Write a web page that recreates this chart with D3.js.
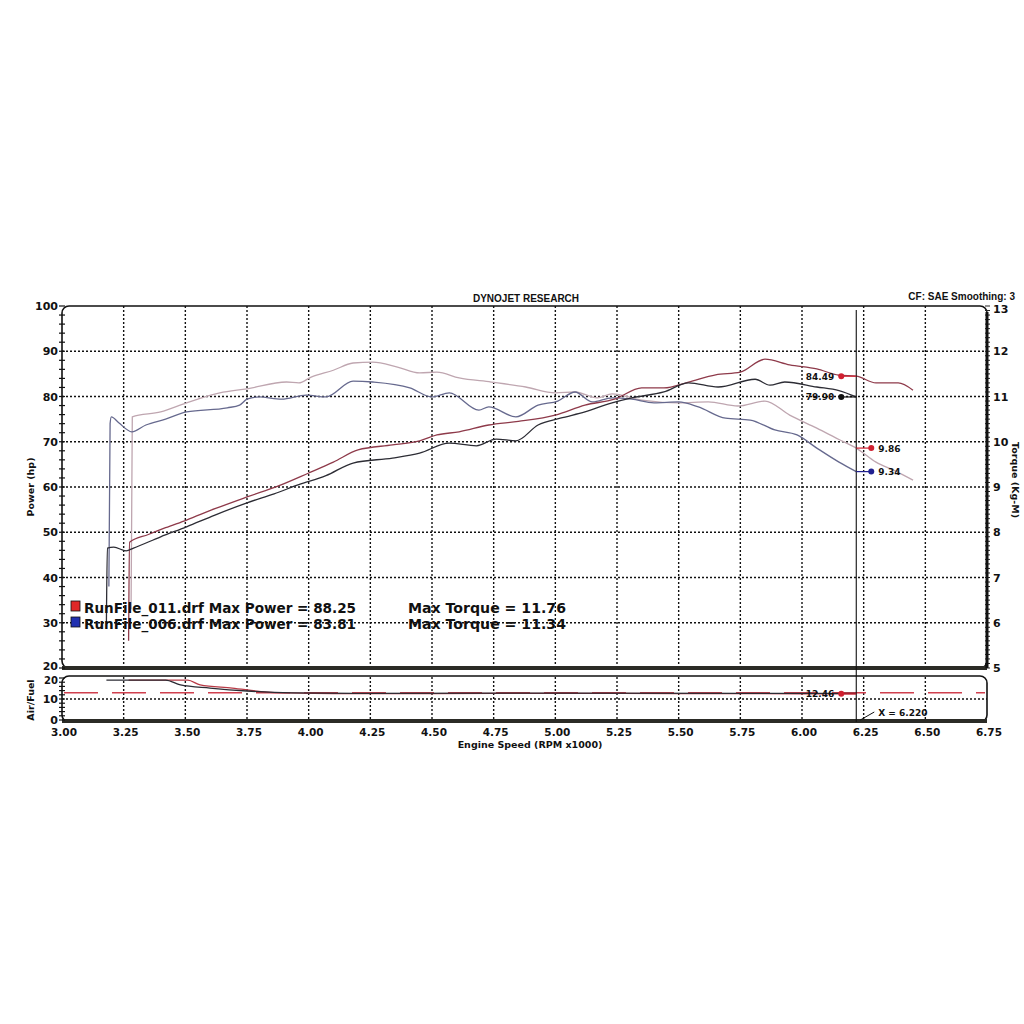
<!DOCTYPE html>
<html>
<head>
<meta charset="utf-8">
<script src="https://cdn.jsdelivr.net/npm/d3@7"></script>
<style>
  body { margin: 0; background: #fff; }
  text { font-family: "DejaVu Sans", Verdana, sans-serif; font-weight: bold; fill: #111; }
</style>
</head>
<body>
<svg width="1024" height="1024"></svg>
<script>
// rpm (x1000), power in hp
var redPower = [[3.270,26],[3.274,47.8],[3.35,49.5],[3.42,51],[3.505,52.7],[3.62,55.2],[3.75,57.8],[3.88,60.3],[4.0,63.1],[4.10,65.5],[4.20,68.2],[4.34,69.3],[4.45,70.2],[4.52,71.5],[4.61,72.2],[4.73,73.7],[4.85,74.5],[5.0,75.9],[5.12,78.1],[5.24,79.4],[5.35,81.9],[5.44,81.9],[5.54,83.2],[5.65,84.8],[5.75,85.4],[5.85,88.25],[5.95,87.0],[6.06,86.1],[6.15,84.7],[6.22,84.49],[6.30,83.0],[6.39,83.0],[6.45,81.4]];
var bluePower = [[3.180,30],[3.184,46.5],[3.21,46.7],[3.26,45.9],[3.29,46.5],[3.40,49],[3.505,51.2],[3.62,53.8],[3.75,56.5],[3.86,58.5],[3.96,60.5],[4.07,62.5],[4.18,65.3],[4.34,66.4],[4.45,67.5],[4.57,69.7],[4.68,69.1],[4.76,70.6],[4.84,70.2],[4.93,73.7],[5.02,75.2],[5.12,76.6],[5.23,78.6],[5.31,79.7],[5.44,81.0],[5.54,83.0],[5.66,82.1],[5.81,83.81],[5.87,82.5],[5.93,83.2],[6.06,82.1],[6.15,81.3],[6.22,79.9]];
// torque in Kg-M
var redTorque = [[3.280,6.3],[3.285,10.55],[3.40,10.66],[3.505,10.86],[3.64,11.08],[3.75,11.17],[3.91,11.32],[3.96,11.30],[4.01,11.43],[4.10,11.58],[4.18,11.74],[4.26,11.76],[4.36,11.65],[4.45,11.52],[4.52,11.54],[4.61,11.41],[4.74,11.32],[4.88,11.21],[5.0,11.08],[5.08,11.10],[5.17,10.97],[5.23,11.06],[5.35,10.92],[5.50,10.86],[5.62,10.88],[5.74,10.79],[5.85,10.90],[5.95,10.59],[6.06,10.30],[6.15,10.05],[6.22,9.86],[6.30,9.55],[6.38,9.35],[6.45,9.15]];
var blueTorque = [[3.190,6.8],[3.195,10.4],[3.20,10.55],[3.23,10.42],[3.283,10.22],[3.34,10.37],[3.42,10.5],[3.505,10.66],[3.67,10.75],[3.72,10.81],[3.75,10.94],[3.80,10.99],[3.89,10.94],[3.99,11.03],[4.07,10.99],[4.18,11.34],[4.26,11.32],[4.41,11.19],[4.50,10.99],[4.57,11.08],[4.69,10.70],[4.73,10.77],[4.84,10.55],[4.93,10.81],[5.01,10.90],[5.08,11.10],[5.15,10.88],[5.23,10.97],[5.31,10.94],[5.40,10.86],[5.50,10.88],[5.58,10.77],[5.69,10.52],[5.79,10.48],[5.89,10.26],[5.98,10.15],[6.06,9.86],[6.15,9.55],[6.22,9.34]];
// air/fuel ratio
var redAfr = [[3.27,19],[3.51,19],[3.56,16.7],[3.69,15.2],[3.83,13.3],[3.93,12.9],[4.1,12.6],[4.5,12.6],[5.0,12.7],[5.5,12.6],[6.0,12.5],[6.22,12.46]];
var blueAfr = [[3.18,19],[3.42,19],[3.48,16.7],[3.60,15.2],[3.75,13.8],[3.93,12.9],[4.2,12.7],[5.0,12.8],[6.0,12.7],[6.22,12.7]];
var targetAfr = 13;

var xTicks = [3.00,3.25,3.50,3.75,4.00,4.25,4.50,4.75,5.00,5.25,5.50,5.75,6.00,6.25,6.50,6.75];
var powerTicks = [20,30,40,50,60,70,80,90,100];
var torqueTicks = [5,6,7,8,9,10,11,12,13];
var afrTicks = [0,10,20];
var cursorRpm = 6.22;

var runs = [
    {name: "RunFile_011.drf", maxPower: "88.25", maxTorque: "11.76", box: "#e02828"},
    {name: "RunFile_006.drf", maxPower: "83.81", maxTorque: "11.34", box: "#2030b0"}
];

var svg = d3.select("svg");

var x = d3.scaleLinear().domain([3, 6.75]).range([62, 987]);
var yP = d3.scaleLinear().domain([20, 100]).range([668, 306]);
var yT = d3.scaleLinear().domain([5, 13]).range([668, 306]);
var yA = d3.scaleLinear().domain([0, 20]).range([720, 678]);

// frames
svg.append("rect")
    .attr("x", x(3)).attr("y", yP(100))
    .attr("width", x(6.75) - x(3)).attr("height", yP(20) - yP(100))
    .attr("rx", 7)
    .attr("fill", "none").attr("stroke", "#111").attr("stroke-width", 1.6);
svg.append("rect")
    .attr("x", x(3)).attr("y", 676)
    .attr("width", x(6.75) - x(3)).attr("height", 46)
    .attr("rx", 7)
    .attr("fill", "none").attr("stroke", "#111").attr("stroke-width", 1.6);

// grid
var grid = svg.append("g")
    .attr("stroke", "#111").attr("stroke-width", 1.4).attr("stroke-dasharray", "2,2");
grid.selectAll(".vg").data(xTicks.slice(1, -1)).enter().append("line")
    .attr("x1", d => x(d)).attr("x2", d => x(d))
    .attr("y1", yP(100)).attr("y2", yP(20));
grid.selectAll(".va").data(xTicks.slice(1, -1)).enter().append("line")
    .attr("x1", d => x(d)).attr("x2", d => x(d))
    .attr("y1", 677).attr("y2", 721);
grid.selectAll(".hg").data(powerTicks.slice(1, -1)).enter().append("line")
    .attr("x1", x(3)).attr("x2", x(6.75))
    .attr("y1", d => yP(d)).attr("y2", d => yP(d));
grid.append("line")
    .attr("x1", x(3)).attr("x2", x(6.75))
    .attr("y1", yA(10)).attr("y2", yA(10));

// target a/f dashed line
svg.append("line")
    .attr("x1", x(3) + 2).attr("x2", x(6.75) - 2)
    .attr("y1", yA(targetAfr)).attr("y2", yA(targetAfr))
    .attr("stroke", "#d0404e").attr("stroke-width", 1.4)
    .attr("stroke-dasharray", "34,14");

// thick bottom bands
svg.append("line").attr("x1", x(3)).attr("x2", x(6.75))
    .attr("y1", yP(20)).attr("y2", yP(20))
    .attr("stroke", "#2b2b26").attr("stroke-width", 4);
svg.append("line").attr("x1", x(3)).attr("x2", x(6.75))
    .attr("y1", 721).attr("y2", 721)
    .attr("stroke", "#2b2b26").attr("stroke-width", 4);

// left axis minor ticks (crossing)
svg.append("g").selectAll("line").data(d3.range(20, 100.1, 2)).enter().append("line")
    .attr("x1", x(3) - 3).attr("x2", x(3) + 3)
    .attr("y1", d => yP(d)).attr("y2", d => yP(d))
    .attr("stroke", "#111").attr("stroke-width", 1.2);
svg.append("g").selectAll("line").data(d3.range(0, 20.1, 2)).enter().append("line")
    .attr("x1", x(3) - 3).attr("x2", x(3) + 3)
    .attr("y1", d => yA(d)).attr("y2", d => yA(d))
    .attr("stroke", "#111").attr("stroke-width", 1.2);
// right axis dense ticks
svg.append("g").selectAll("line").data(d3.range(5, 13.01, 0.1)).enter().append("line")
    .attr("x1", x(6.75) - 2).attr("x2", x(6.75) + 3)
    .attr("y1", d => yT(d)).attr("y2", d => yT(d))
    .attr("stroke", "#222").attr("stroke-width", 1);
svg.append("line").attr("x1", x(6.75)).attr("x2", x(6.75))
    .attr("y1", yT(13) + 6).attr("y2", yT(5))
    .attr("stroke", "#111").attr("stroke-width", 3);

// tick labels
svg.append("g").selectAll("text").data(powerTicks).enter().append("text")
    .attr("x", x(3) - 4).attr("y", d => yP(d) + (d == 20 ? 2 : 4))
    .attr("text-anchor", "end").attr("font-size", 11)
    .text(d => d);
svg.append("g").selectAll("text").data(afrTicks).enter().append("text")
    .attr("x", x(3) - 4).attr("y", d => yA(d) + (d == 20 ? 6 : 4))
    .attr("text-anchor", "end").attr("font-size", d => d == 20 ? 10 : 11)
    .text(d => d);
svg.append("g").selectAll("text").data(torqueTicks).enter().append("text")
    .attr("x", x(6.75) + 6).attr("y", d => yT(d) + (d == 13 ? 7 : 4))
    .attr("font-size", 11)
    .text(d => d);
svg.append("g").selectAll("text").data(xTicks).enter().append("text")
    .attr("x", d => x(d) + 2).attr("y", 736)
    .attr("text-anchor", "middle").attr("font-size", 10.5)
    .text(d => d.toFixed(2));

// titles
svg.append("text").attr("x", 526).attr("y", 302)
    .attr("text-anchor", "middle").attr("font-size", 10)
    .style("font-family", "Liberation Sans, Arial, sans-serif")
    .text("DYNOJET RESEARCH");
svg.append("text").attr("x", 1015).attr("y", 300)
    .attr("text-anchor", "end").attr("font-size", 10)
    .style("font-family", "Liberation Sans, Arial, sans-serif")
    .text("CF: SAE  Smoothing: 3");
svg.append("text").attr("transform", "translate(34,487) rotate(-90)")
    .attr("text-anchor", "middle").attr("font-size", 9.5)
    .text("Power (hp)");
svg.append("text").attr("transform", "translate(34,700) rotate(-90)")
    .attr("text-anchor", "middle").attr("font-size", 9.5)
    .text("Air/Fuel");
svg.append("text").attr("transform", "translate(1012,480) rotate(90)")
    .attr("text-anchor", "middle").attr("font-size", 9.5)
    .text("Torque (Kg-M)");
svg.append("text").attr("x", 530).attr("y", 748)
    .attr("text-anchor", "middle").attr("font-size", 9.5)
    .text("Engine Speed (RPM x1000)");

// curves
var lineP = d3.line().x(d => x(d[0])).y(d => yP(d[1])).curve(d3.curveMonotoneX);
var lineT = d3.line().x(d => x(d[0])).y(d => yT(d[1])).curve(d3.curveMonotoneX);
var lineA = d3.line().x(d => x(d[0])).y(d => yA(d[1])).curve(d3.curveMonotoneX);

var curves = [
    {data: redTorque, gen: lineT, color: "#bfa6b0"},
    {data: blueTorque, gen: lineT, color: "#66698e"},
    {data: redPower, gen: lineP, color: "#8e3a4a"},
    {data: bluePower, gen: lineP, color: "#2c2c34"},
    {data: redAfr, gen: lineA, color: "#b83a46"},
    {data: blueAfr, gen: lineA, color: "#2c2c34"}
];
svg.append("g").selectAll("path").data(curves).enter().append("path")
    .attr("d", d => d.gen(d.data))
    .attr("fill", "none")
    .attr("stroke", d => d.color)
    .attr("stroke-width", 1.3);

// cursor
var cx = x(cursorRpm);
svg.append("line").attr("x1", cx).attr("x2", cx)
    .attr("y1", yP(100) + 4).attr("y2", 722)
    .attr("stroke", "#111").attr("stroke-width", 1.1);
svg.append("line").attr("x1", cx + 4).attr("x2", cx + 18)
    .attr("y1", 720).attr("y2", 712)
    .attr("stroke", "#111").attr("stroke-width", 1);
svg.append("text").attr("x", cx + 22).attr("y", 716)
    .attr("font-size", 9).text("X = " + cursorRpm.toFixed(3));

// cursor readouts
var readouts = [
    {v: redPower[redPower.length - 4][1], y: yP(redPower[redPower.length - 4][1]), side: -1, color: "#d02030"},
    {v: bluePower[bluePower.length - 1][1], y: yP(bluePower[bluePower.length - 1][1]), side: -1, color: "#111"},
    {v: redTorque[redTorque.length - 4][1], y: yT(redTorque[redTorque.length - 4][1]), side: 1, color: "#d02030"},
    {v: blueTorque[blueTorque.length - 1][1], y: yT(blueTorque[blueTorque.length - 1][1]), side: 1, color: "#202090"},
    {v: redAfr[redAfr.length - 1][1], y: yA(redAfr[redAfr.length - 1][1]), side: -1, color: "#d02030"}
];
var ro = svg.append("g").selectAll("g").data(readouts).enter().append("g");
ro.append("line")
    .attr("x1", cx).attr("x2", d => cx + d.side * 15)
    .attr("y1", d => d.y).attr("y2", d => d.y)
    .attr("stroke", d => d.color).attr("stroke-width", 1.2);
ro.append("circle")
    .attr("cx", d => cx + d.side * 15).attr("cy", d => d.y).attr("r", 3)
    .attr("fill", d => d.color);
ro.append("text")
    .attr("x", d => cx + d.side * 22).attr("y", d => d.y + 3.5)
    .attr("text-anchor", d => d.side < 0 ? "end" : "start")
    .attr("font-size", 9)
    .text(d => d.v.toFixed(2));

// legend
var leg = svg.append("g").selectAll("g").data(runs).enter().append("g")
    .attr("transform", (d, i) => "translate(0," + (i * 16) + ")");
leg.append("rect").attr("x", 71).attr("y", 601).attr("width", 9).attr("height", 10)
    .attr("fill", d => d.box).attr("stroke", "#111").attr("stroke-width", 0.8);
leg.append("text").attr("x", 84).attr("y", 613)
    .attr("font-size", 14.5)
    .attr("textLength", 272).attr("lengthAdjust", "spacingAndGlyphs")
    .text(d => d.name + " Max Power = " + d.maxPower);
leg.append("text").attr("x", 408).attr("y", 613)
    .attr("font-size", 14.5)
    .attr("textLength", 158).attr("lengthAdjust", "spacingAndGlyphs")
    .text(d => "Max Torque = " + d.maxTorque);
</script>
</body>
</html>
